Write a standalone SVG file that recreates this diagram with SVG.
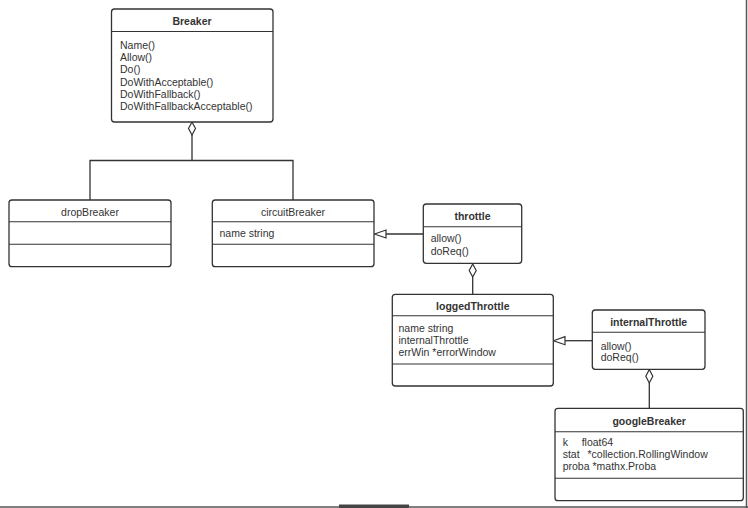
<svg xmlns="http://www.w3.org/2000/svg" width="748" height="508" viewBox="0 0 748 508">
<style>
.box{fill:#fff;stroke:#333;stroke-width:1.3}
.div{stroke:#333;stroke-width:1.1}
.t{font-family:"Liberation Sans",Arial,sans-serif;font-size:10.5px;fill:#333}
.b{font-weight:bold;text-anchor:middle}
.c{text-anchor:middle}
.ln{fill:none;stroke:#333;stroke-width:1.3}
.dia{fill:#fff;stroke:#333;stroke-width:1.2}
.tri{fill:#fff;stroke:#333;stroke-width:1.2}
</style>
<rect width="748" height="508" fill="#fff"/>
<line x1="746.5" y1="0" x2="746.5" y2="508" stroke="#555" stroke-width="1.5"/>
<line x1="0" y1="507" x2="748" y2="507" stroke="#555" stroke-width="1.5"/>
<rect x="339" y="504.5" width="70" height="3.5" fill="#444"/>

<g id="connectors">
  <path class="ln" d="M192 135 V160.5 M90 200 V160.5 H293 V200"/>
  <path class="dia" d="M192 122 L195.5 128.5 L192 135 L188.5 128.5 Z"/>
  <path class="ln" d="M423 234 H386"/>
  <path class="tri" d="M374.5 234 L386 230 L386 238 Z"/>
  <path class="ln" d="M472.7 277 V294"/>
  <path class="dia" d="M472.7 264 L476.2 270.5 L472.7 277 L469.2 270.5 Z"/>
  <path class="ln" d="M592 340.7 H565"/>
  <path class="tri" d="M553.5 340.7 L565 336.7 L565 344.7 Z"/>
  <path class="ln" d="M649.3 383 V408"/>
  <path class="dia" d="M649.3 369.5 L652.8 376.2 L649.3 383 L645.8 376.2 Z"/>
</g>

<g id="Breaker">
  <rect class="box" x="111.5" y="9" width="161.5" height="113" rx="3"/>
  <line class="div" x1="111.5" y1="31.5" x2="273" y2="31.5"/>
  <text class="t b" x="192" y="24.5">Breaker</text>
  <text class="t" x="120" y="49">Name()</text>
  <text class="t" x="120" y="61.2">Allow()</text>
  <text class="t" x="120" y="73.4">Do()</text>
  <text class="t" x="120" y="85.6">DoWithAcceptable()</text>
  <text class="t" x="120" y="97.8">DoWithFallback()</text>
  <text class="t" x="120" y="110">DoWithFallbackAcceptable()</text>
</g>

<g id="dropBreaker">
  <rect class="box" x="9" y="200" width="162" height="66.7" rx="3"/>
  <line class="div" x1="9" y1="221.7" x2="171" y2="221.7"/>
  <line class="div" x1="9" y1="244.3" x2="171" y2="244.3"/>
  <text class="t c" x="90" y="216">dropBreaker</text>
</g>

<g id="circuitBreaker">
  <rect class="box" x="212.3" y="200" width="161.7" height="66.7" rx="3"/>
  <line class="div" x1="212.3" y1="221.7" x2="374" y2="221.7"/>
  <line class="div" x1="212.3" y1="244.3" x2="374" y2="244.3"/>
  <text class="t c" x="293" y="216">circuitBreaker</text>
  <text class="t" x="219.5" y="237">name string</text>
</g>

<g id="throttle">
  <rect class="box" x="423.3" y="204" width="98.4" height="59.3" rx="3"/>
  <line class="div" x1="423.3" y1="226.7" x2="521.7" y2="226.7"/>
  <text class="t b" x="472.5" y="219.5">throttle</text>
  <text class="t" x="430.7" y="242">allow()</text>
  <text class="t" x="430.7" y="254.5">doReq()</text>
</g>

<g id="loggedThrottle">
  <rect class="box" x="392.3" y="294.3" width="161" height="91.7" rx="3"/>
  <line class="div" x1="392.3" y1="315.7" x2="553.3" y2="315.7"/>
  <line class="div" x1="392.3" y1="364" x2="553.3" y2="364"/>
  <text class="t b" x="472.8" y="309.8">loggedThrottle</text>
  <text class="t" x="398.5" y="332">name string</text>
  <text class="t" x="398.5" y="344.2">internalThrottle</text>
  <text class="t" x="398.5" y="356.4">errWin *errorWindow</text>
</g>

<g id="internalThrottle">
  <rect class="box" x="592.3" y="310" width="112.7" height="59.3" rx="3"/>
  <line class="div" x1="592.3" y1="332.3" x2="705" y2="332.3"/>
  <text class="t b" x="648.7" y="326">internalThrottle</text>
  <text class="t" x="600.7" y="349.7">allow()</text>
  <text class="t" x="600.7" y="361.3">doReq()</text>
</g>

<g id="googleBreaker">
  <rect class="box" x="555" y="408.3" width="188.3" height="92.4" rx="3"/>
  <line class="div" x1="555" y1="431.7" x2="743.3" y2="431.7"/>
  <line class="div" x1="555" y1="478.3" x2="743.3" y2="478.3"/>
  <text class="t b" x="649.2" y="424.5">googleBreaker</text>
  <text class="t" x="562.7" y="446.3">k</text>
  <text class="t" x="581.7" y="446.3">float64</text>
  <text class="t" x="562.7" y="458">stat</text>
  <text class="t" x="587.5" y="458">*collection.RollingWindow</text>
  <text class="t" x="562.7" y="470">proba *mathx.Proba</text>
</g>
</svg>
